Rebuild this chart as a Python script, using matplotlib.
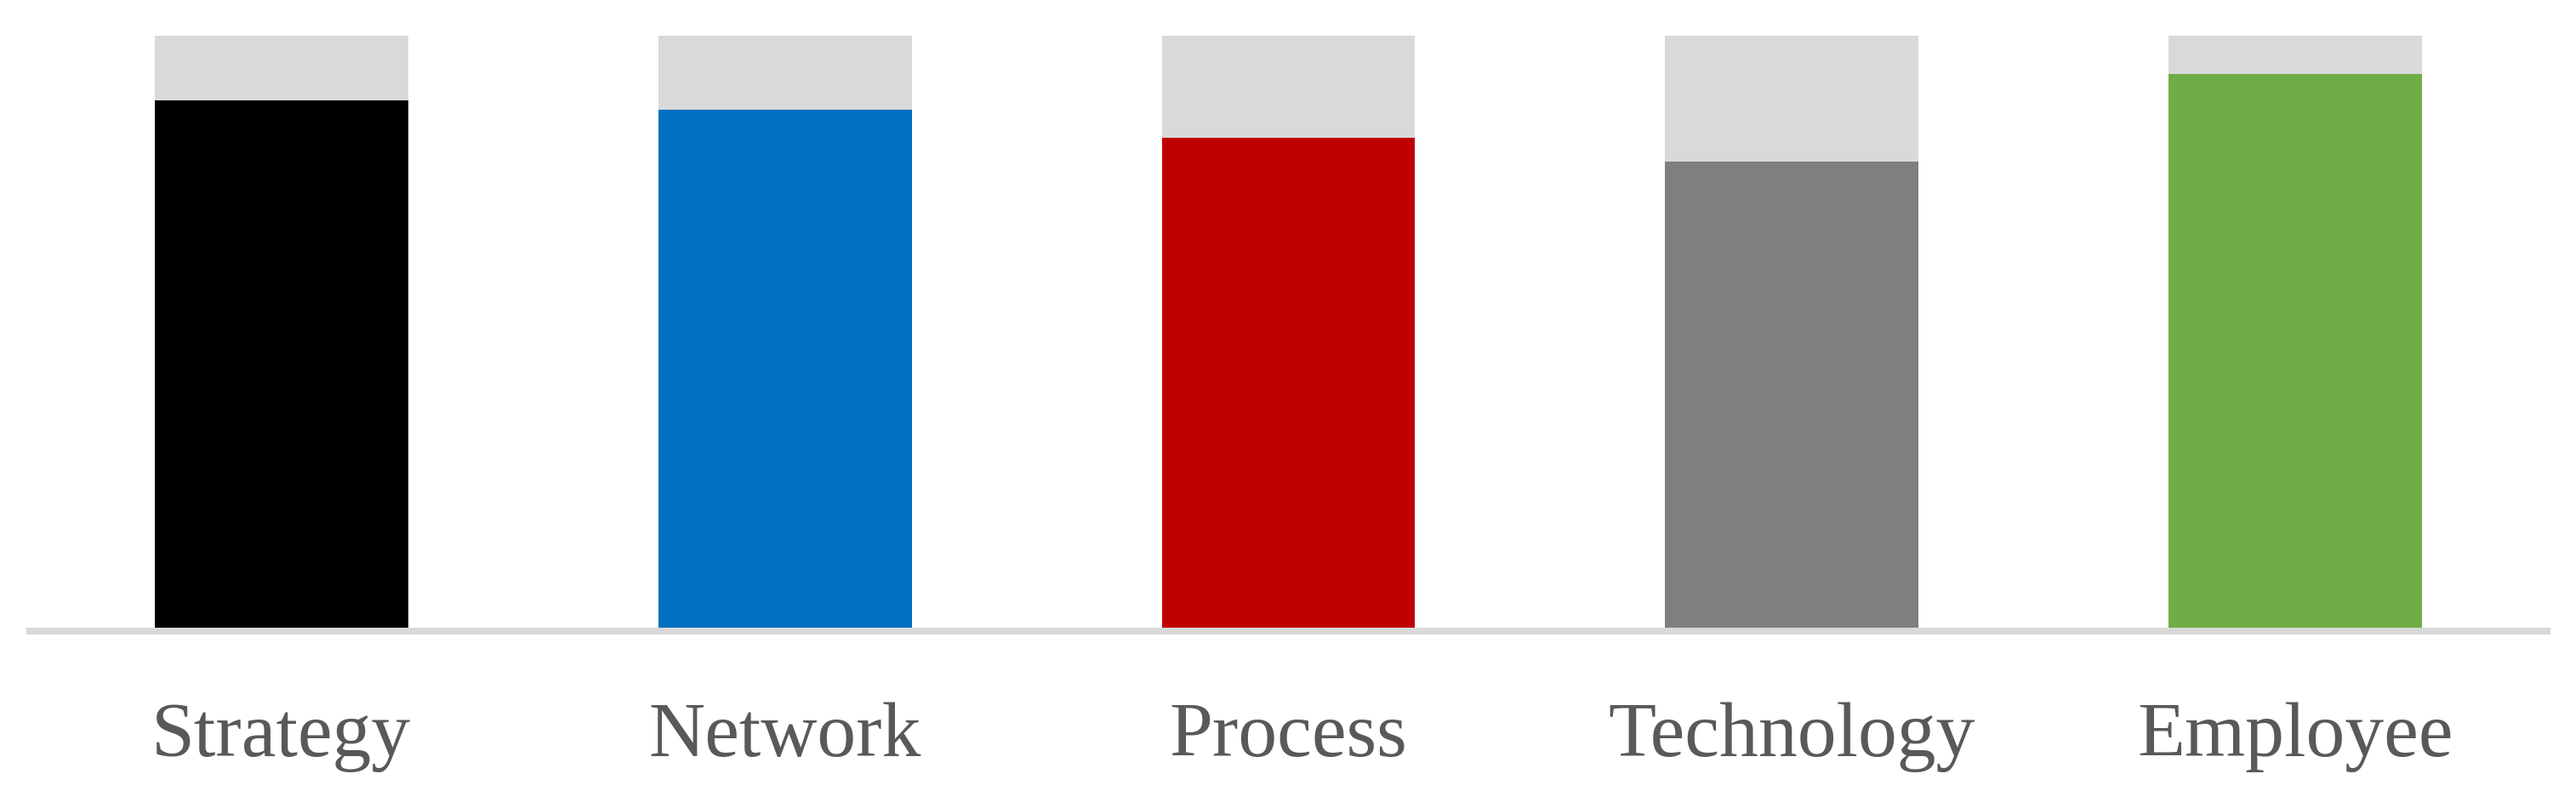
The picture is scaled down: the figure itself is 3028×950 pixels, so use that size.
import matplotlib
matplotlib.use("Agg")
import matplotlib.pyplot as plt

# chart values (share of the maximum, in %)
categories = ["Strategy", "Network", "Process", "Technology", "Employee"]
scores = [89.0, 87.4, 82.7, 78.7, 93.5]
full_scale = [100, 100, 100, 100, 100]
bar_colors = ["#000000", "#0070C0", "#C00000", "#7F7F7F", "#70AD47"]

BACK_COLOR = "#D9D9D9"
LABEL_COLOR = "#595959"

fig = plt.figure(figsize=(30.28, 9.5), dpi=100)
ax = fig.add_axes([35 / 3028, 1 - 738 / 950, (2994 - 35) / 3028, (738 - 41.5) / 950])

x = list(range(len(categories)))
ax.bar(x, full_scale, width=0.503, color=BACK_COLOR, zorder=1)
ax.bar(x, scores, width=0.503, color=bar_colors, zorder=2)

ax.set_xlim(-0.5, len(categories) - 0.5)
ax.set_ylim(0, 100)

for side in ["top", "right", "left"]:
    ax.spines[side].set_visible(False)
ax.spines["bottom"].set_color(BACK_COLOR)
ax.spines["bottom"].set_linewidth(5.76)
ax.spines["bottom"].set_position(("outward", 2.88))

ax.set_yticks([])
ax.set_xticks(x)
ax.set_xticklabels(categories, fontsize=66, color=LABEL_COLOR, va="baseline",
                   family=["Liberation Serif", "DejaVu Serif"])
ax.tick_params(axis="x", length=0, pad=106)

fig.savefig("out.png", dpi=100)
